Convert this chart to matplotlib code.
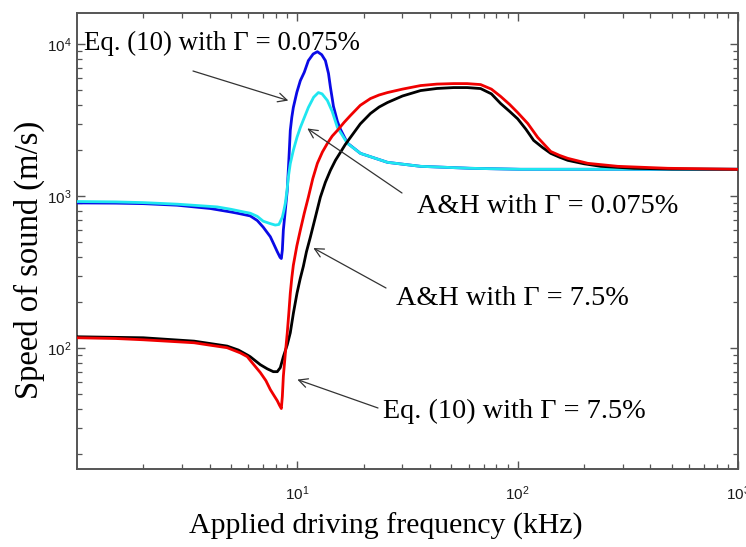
import matplotlib
matplotlib.use("Agg")
import matplotlib.pyplot as plt
from matplotlib.ticker import LogLocator, NullFormatter

# ---- data (frequency in kHz, speed of sound in m/s) ----
f_blue = [1.0, 1.5, 2.0, 2.85, 4.02, 5.0, 5.34, 6.11, 6.58, 7.0, 7.54, 7.78, 8.11, 8.35,
          8.46, 8.55, 8.64, 8.82, 9.0, 9.15, 9.29, 9.44, 9.59, 9.95, 10.32, 10.75, 11.22,
          11.8, 12.33, 12.9, 13.41, 13.85, 14.13, 14.43, 14.58, 15.2, 15.69, 16.88, 19.34,
          25.65, 36.24, 61.1, 103.0, 1000.0]
v_blue = [901, 898, 891, 870, 828, 785, 771, 740, 690, 624, 540, 490, 430, 395,
          388, 441, 597, 807, 1091, 1717, 2701, 3302, 3823, 4815, 5744, 6513, 7774,
          8600, 8903, 8507, 7774, 6400, 5200, 4300, 3900, 3100, 2750, 2230, 1908,
          1666, 1568, 1522, 1499, 1499]

f_cyan = [1.0, 1.5, 2.0, 2.85, 4.33, 5.0, 5.68, 6.11, 6.58, 7.0, 7.5, 7.94, 8.25, 8.55,
          8.66, 8.82, 8.98, 9.10, 9.29, 9.59, 9.97, 10.32, 11.22, 11.86, 12.46, 12.95,
          13.69, 14.4, 15.2, 16.88, 19.34, 25.65, 36.24, 61.1, 103.0, 1000.0]
v_cyan = [920, 915, 905, 884, 848, 818, 787, 771, 735, 683, 660, 644, 650, 726,
          787, 897, 1091, 1329, 1634, 1997, 2441, 2826, 3823, 4467, 4794, 4700,
          4249, 3600, 2826, 2220, 1908, 1666, 1568, 1522, 1499, 1499]

f_black = [1.0, 2.0, 3.4, 4.8, 5.4, 5.93, 6.11, 6.79, 7.3, 7.78, 8.11, 8.37, 8.64, 9.0,
           9.29, 9.6, 9.97, 10.3, 10.65, 11.0, 11.46, 12.0, 12.72, 13.4, 14.13, 14.9,
           15.69, 16.5, 17.42, 19.3, 21.47, 23.5, 25.65, 30.0, 36.24, 43.0, 51.2, 59.0,
           67.9, 76.0, 83.7, 92.0, 100.0, 109.0, 118.2, 130.0, 141.3, 155.0, 168.8,
           200.0, 238.4, 336.9, 500.0, 1000.0]
v_black = [118.6, 116.8, 111.0, 103.0, 97.0, 90.0, 87.7, 77.7, 73.0, 69.9, 69.9, 74.3,
           87.7, 105, 126, 170, 230, 285, 345, 430, 537, 700, 982, 1230, 1476, 1720,
           1938, 2180, 2430, 2980, 3491, 3850, 4122, 4550, 4940, 5100, 5170, 5170,
           5093, 4700, 4060, 3600, 3220, 2750, 2322, 2080, 1908, 1800, 1717,
           1630, 1568, 1522, 1505, 1499]

f_red = [1.0, 1.5, 2.0, 3.4, 4.0, 4.8, 5.5, 5.93, 6.11, 6.79, 7.2, 7.54, 7.85, 8.11,
         8.3, 8.46, 8.55, 8.64, 8.82, 9.0, 9.15, 9.29, 9.44, 9.59, 9.95, 10.32, 10.75,
         11.22, 11.75, 12.33, 13.0, 13.69, 14.4, 15.2, 16.3, 17.42, 19.3, 21.47, 23.5,
         25.65, 30.0, 36.24, 43.0, 51.2, 59.0, 67.9, 76.0, 83.7, 92.0, 100.0, 111.1,
         123.3, 141.3, 155.0, 168.8, 208.1, 284.8, 480.6, 1000.0]
v_red = [116.8, 115.5, 113.3, 108.3, 104.5, 100.5, 93, 87.7, 83, 69, 61, 53.3, 48.5, 45,
         42, 40, 48, 65, 92, 125.5, 170, 229.5, 290, 350, 470, 597, 770,
         982, 1300, 1641, 1950, 2220, 2480, 2701, 3050, 3387, 3950, 4378, 4620,
         4794, 5050, 5329, 5450, 5492, 5490, 5410, 5050, 4520, 4000, 3540, 3002,
         2430, 1963, 1850, 1770, 1641, 1568, 1522, 1499]

x_ticks = [10, 100, 1000]
y_ticks = [100, 1000, 10000]
x_label = "Applied driving frequency (kHz)"
y_label = "Speed of sound (m/s)"

# annotations: text and arrow tip (data)
ann_texts = ["Eq. (10) with \u0393 = 0.075%", "A&H with \u0393 = 0.075%",
             "A&H with \u0393 = 7.5%", "Eq. (10) with \u0393 = 7.5%"]
ann_tips = [(9.10, 4246), (11.1, 2784), (11.82, 455), (10.0, 62)]

# ---- figure ----
plt.rcParams['font.family'] = ['Liberation Sans', 'DejaVu Sans']
serif = ['Liberation Serif', 'DejaVu Serif']

W, H = 746, 547
fig = plt.figure(figsize=(W / 100, H / 100), dpi=100)
ax = fig.add_axes([77 / W, 1 - 469 / H, (738 - 77) / W, (469 - 13) / H])

lw = 2.0
ax.plot(f_blue, v_blue, color='#0a0ae6', lw=lw, zorder=3)
ax.plot(f_cyan, v_cyan, color='#1fe6f0', lw=lw, zorder=4)
ax.plot(f_black, v_black, color='#000000', lw=lw, zorder=5)
ax.plot(f_red, v_red, color='#f00000', lw=lw, zorder=6)

ax.set_xscale('log')
ax.set_yscale('log')
ax.set_xlim(1, 1000)
ax.set_ylim(16, 16000)

ax.set_xticks(x_ticks)
ax.set_yticks(y_ticks)
ax.xaxis.set_minor_locator(LogLocator(base=10, subs=range(2, 10), numticks=20))
ax.yaxis.set_minor_locator(LogLocator(base=10, subs=range(2, 10), numticks=20))
ax.xaxis.set_minor_formatter(NullFormatter())
ax.yaxis.set_minor_formatter(NullFormatter())

ax.tick_params(which='both', direction='in', top=True, right=True, color='#555555',
               labelsize=11, labelcolor='#1a1a1a')
ax.tick_params(which='major', length=6, width=1.0)
ax.tick_params(which='minor', length=3.5, width=0.9)
ax.tick_params(axis='x', which='major', pad=11)
ax.tick_params(axis='y', which='major', pad=4)

for sp in ax.spines.values():
    sp.set_color('#555555')
    sp.set_linewidth(1.4)

# axis labels placed in figure pixels
fig.text(583 / W, 1 - 534 / H, x_label, family=serif, fontsize=21.5,
         ha='right', va='baseline')
fig.text(29 / W, 1 - 399 / H, y_label, family=serif, fontsize=23.5, rotation=90,
         rotation_mode='anchor', ha='left', va='center')

# annotation text (left x, baseline y in pixels) and arrow tails (pixels)
text_px = [(84, 50), (417, 213), (396, 305), (383, 418)]
text_fs = [19.4, 20.3, 20.3, 20.3]
tail_px = [(193, 71), (402, 193), (386, 288), (378, 408)]

for txt, tp, fs, tail, tip in zip(ann_texts, text_px, text_fs, tail_px, ann_tips):
    ax.text((tp[0] - 77) / 661, (469 - tp[1]) / 456, txt, transform=ax.transAxes,
            family=serif, fontsize=fs, ha='left', va='baseline', zorder=10)
    ax.annotate('', xy=tip, xycoords='data',
                xytext=((tail[0] - 77) / 661, (469 - tail[1]) / 456),
                textcoords='axes fraction',
                arrowprops=dict(arrowstyle='->', color='#333333', lw=0.9,
                                mutation_scale=16, shrinkA=0, shrinkB=0), zorder=10)

fig.savefig('out.png', dpi=100)
